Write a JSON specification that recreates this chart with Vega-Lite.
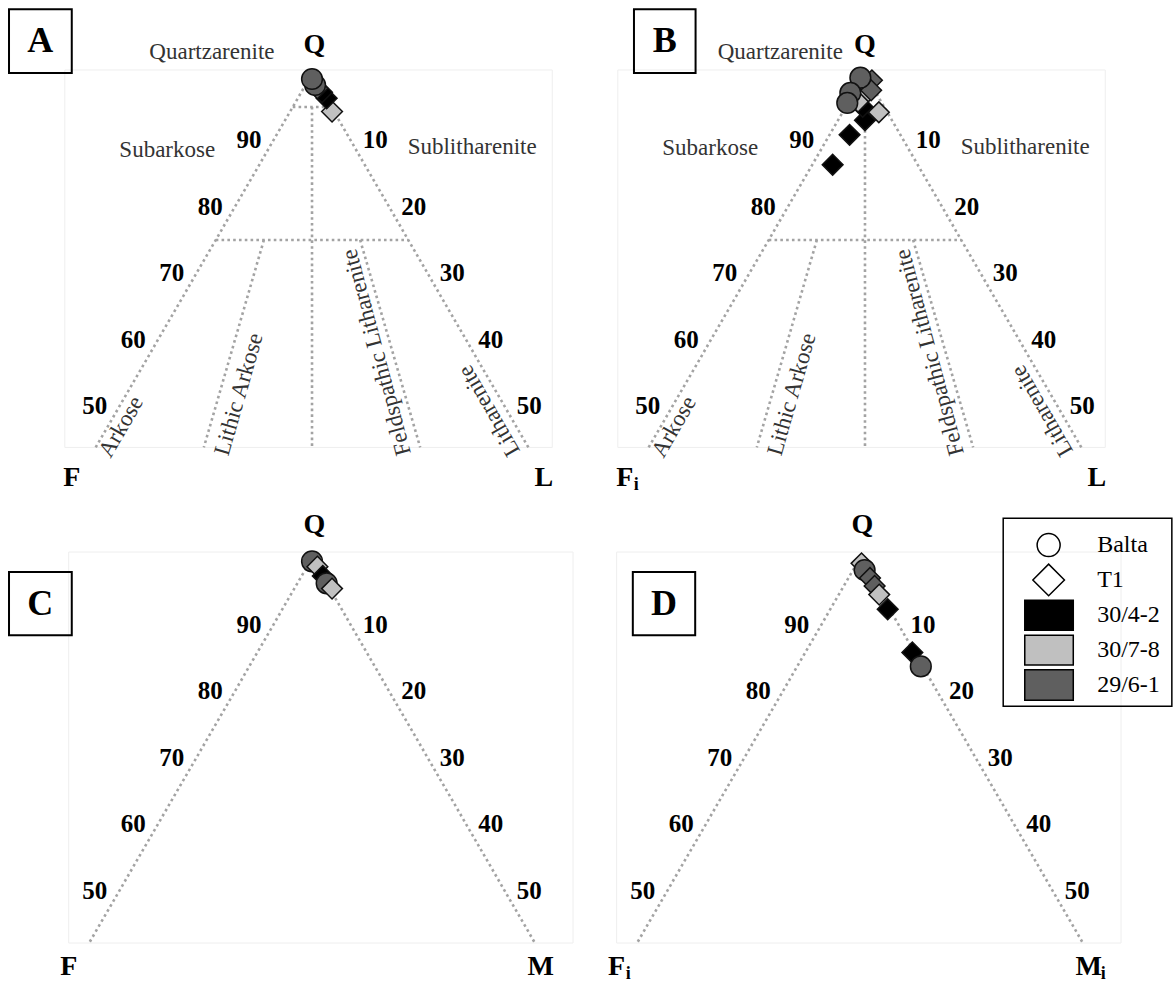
{
"$schema":"https://vega.github.io/schema/vega-lite/v6.json",
"padding":0,"spacing":0,"columns":2,"bounds":"flush","background":"white",
"config":{"view":{"stroke":null},"text":{"font":"Liberation Serif, Times New Roman, serif"}},
"resolve":{"scale":{"x":"independent","y":"independent"}},
"datasets":{
"grid_top":[{"x":0,"q":100,"x2":-28.1,"q2":43.8},{"x":0,"q":100,"x2":28.1,"q2":43.8},{"x":-2.5,"q":95,"x2":2.5,"q2":95},{"x":0,"q":95,"x2":0,"q2":43.8},{"x":-12.5,"q":75,"x2":12.5,"q2":75},{"x":-6.25,"q":75,"x2":-14.05,"q2":43.8},{"x":6.25,"q":75,"x2":14.05,"q2":43.8}],
"grid_bottom":[{"x":0,"q":100,"x2":-28.95,"q2":42.1},{"x":0,"q":100,"x2":28.95,"q2":42.1}],
"frame_top":[{"x":-32.1,"q":100.56,"x2":31.2,"q2":43.8}],
"frame_bottom":[{"x":-31.6,"q":100.9,"x2":33.9,"q2":42.1}],
"ticks":[{"label":"90","x":-8.2,"q":90},{"label":"80","x":-13.2,"q":80},{"label":"70","x":-18.2,"q":70},{"label":"60","x":-23.2,"q":60},{"label":"50","x":-28.2,"q":50},{"label":"10","x":8.2,"q":90},{"label":"20","x":13.2,"q":80},{"label":"30","x":18.2,"q":70},{"label":"40","x":23.2,"q":60},{"label":"50","x":28.2,"q":50}],
"regions":[{"panel":"A","label":"Quartzarenite","x":-13.0,"q":103.3},{"panel":"A","label":"Subarkose","x":-18.8,"q":88.5},{"panel":"A","label":"Sublitharenite","x":20.8,"q":89},{"panel":"B","label":"Quartzarenite","x":-11.0,"q":103.3},{"panel":"B","label":"Subarkose","x":-20.1,"q":88.8},{"panel":"B","label":"Sublitharenite","x":20.8,"q":89}],
"rotated":[{"label":"Arkose","x":-24.8,"q":46.9},{"label":"Lithic Arkose","x":-9.5,"q":51.8},{"label":"Feldspathic Litharenite","x":8.4,"q":58.1},{"label":"Litharenite","x":23.0,"q":49.3}],
"corners":[{"panel":"A","label":"Q","x":0.3,"q":104.3},{"panel":"A","label":"F","x":-31.2,"q":39.2},{"panel":"A","label":"L","x":30.1,"q":39.2},{"panel":"B","label":"Q","x":0.0,"q":104.3},{"panel":"B","label":"F","x":-31.2,"q":39.2},{"panel":"B","label":"L","x":30.1,"q":39.2},{"panel":"C","label":"Q","x":0.3,"q":105},{"panel":"C","label":"F","x":-31.6,"q":38.5},{"panel":"C","label":"M","x":29.7,"q":38.5},{"panel":"D","label":"Q","x":0.3,"q":105},{"panel":"D","label":"F","x":-31.6,"q":38.5},{"panel":"D","label":"M","x":29.7,"q":38.5}],
"subs":[{"panel":"B","label":"i","x":-29.7,"q":38.1},{"panel":"D","label":"i","x":-30.1,"q":37.4},{"panel":"D","label":"i","x":31.6,"q":37.4}],
"boxes":[{"panel":"A","x":-39.35,"q":109.7,"x2":-31.2,"q2":100.1},{"panel":"B","x":-30.0,"q":109.7,"x2":-22.0,"q2":100.1},{"panel":"C","x":-39.35,"q":97.9,"x2":-31.2,"q2":88.4},{"panel":"D","x":-29.5,"q":97.9,"x2":-21.4,"q2":88.4}],
"letters":[{"panel":"A","label":"A","x":-35.3,"q":104.9},{"panel":"B","label":"B","x":-26.0,"q":104.9},{"panel":"C","label":"C","x":-35.3,"q":93.15},{"panel":"D","label":"D","x":-25.45,"q":93.15}],
"points":[
{"panel":"A","site":"T1","sample":"30/7-8","q":94.3,"x":2.6},
{"panel":"A","site":"T1","sample":"30/4-2","q":96.3,"x":1.9},
{"panel":"A","site":"T1","sample":"30/4-2","q":97.2,"x":1.3},
{"panel":"A","site":"T1","sample":"29/6-1","q":97.8,"x":0.7},
{"panel":"A","site":"Balta","sample":"29/6-1","q":98.3,"x":0.4},
{"panel":"A","site":"Balta","sample":"29/6-1","q":99.2,"x":0.0},
{"panel":"B","site":"T1","sample":"30/4-2","q":86.3,"x":-4.2},
{"panel":"B","site":"T1","sample":"30/4-2","q":90.8,"x":-2.0},
{"panel":"B","site":"T1","sample":"30/4-2","q":93.0,"x":0.0},
{"panel":"B","site":"T1","sample":"30/4-2","q":95.0,"x":-0.3},
{"panel":"B","site":"T1","sample":"30/7-8","q":94.2,"x":1.8},
{"panel":"B","site":"T1","sample":"30/7-8","q":96.5,"x":-0.3},
{"panel":"B","site":"T1","sample":"29/6-1","q":99.0,"x":0.9},
{"panel":"B","site":"T1","sample":"29/6-1","q":97.5,"x":0.8},
{"panel":"B","site":"T1","sample":"30/7-8","q":95.8,"x":-0.9},
{"panel":"B","site":"Balta","sample":"29/6-1","q":99.4,"x":-0.6},
{"panel":"B","site":"Balta","sample":"29/6-1","q":97.1,"x":-1.9},
{"panel":"B","site":"Balta","sample":"29/6-1","q":95.6,"x":-2.3},
{"panel":"C","site":"Balta","sample":"29/6-1","q":99.5,"x":0.0},
{"panel":"C","site":"T1","sample":"30/7-8","q":98.7,"x":0.7},
{"panel":"C","site":"T1","sample":"30/4-2","q":97.3,"x":1.4},
{"panel":"C","site":"Balta","sample":"29/6-1","q":96.2,"x":1.9},
{"panel":"C","site":"T1","sample":"30/7-8","q":95.4,"x":2.6},
{"panel":"D","site":"T1","sample":"30/7-8","q":99.2,"x":0.2},
{"panel":"D","site":"Balta","sample":"29/6-1","q":98.2,"x":0.6},
{"panel":"D","site":"T1","sample":"29/6-1","q":97.0,"x":1.3},
{"panel":"D","site":"T1","sample":"29/6-1","q":95.8,"x":1.9},
{"panel":"D","site":"T1","sample":"30/7-8","q":94.5,"x":2.5},
{"panel":"D","site":"T1","sample":"30/4-2","q":92.3,"x":3.6},
{"panel":"D","site":"T1","sample":"30/4-2","q":85.8,"x":6.8},
{"panel":"D","site":"Balta","sample":"29/6-1","q":83.7,"x":7.9}],
"legend_box":[{"x":18.6,"q":106.0,"x2":40.5,"q2":77.7}],
"legend_sym":[{"site":"Balta","x":24.5,"q":101.95},{"site":"T1","x":24.5,"q":96.7}],
"legend_rect":[{"sample":"30/4-2","x":21.4,"x2":27.7,"q":93.66,"q2":89.15},{"sample":"30/7-8","x":21.4,"x2":27.7,"q":88.4,"q2":83.9},{"sample":"29/6-1","x":21.4,"x2":27.7,"q":83.2,"q2":78.6}],
"legend_text":[{"label":"Balta","x":30.8,"q":101.95},{"label":"T1","x":30.8,"q":96.7},{"label":"30/4-2","x":30.8,"q":91.4},{"label":"30/7-8","x":30.8,"q":86.2},{"label":"29/6-1","x":30.8,"q":80.9}]
},
"concat":[
{"width":587,"height":490,
"encoding":{"x":{"field":"x","type":"quantitative","axis":null,"scale":{"domain":[-40.52,35.71],"nice":false,"zero":false}},"y":{"field":"q","type":"quantitative","axis":null,"scale":{"domain":[37.40,111.08],"nice":false,"zero":false}}},
"layer":[
{"data":{"name":"frame_top"},"mark":{"type":"rect","fillOpacity":0,"stroke":"#eeeeee","strokeWidth":1},"encoding":{"x2":{"field":"x2"},"y2":{"field":"q2"}}},
{"data":{"name":"grid_top"},"mark":{"type":"rule","stroke":"#a3a3a3","strokeWidth":2.6,"strokeDash":[2.6,3.2]},"encoding":{"x2":{"field":"x2"},"y2":{"field":"q2"}}},
{"data":{"name":"ticks"},"mark":{"type":"text","fontWeight":"bold","fontSize":25,"fill":"#000"},"encoding":{"text":{"field":"label"}}},
{"data":{"name":"regions"},"transform":[{"filter":"datum.panel === 'A'"}],"mark":{"type":"text","fontSize":23,"fill":"#333"},"encoding":{"text":{"field":"label"}}},
{"data":{"name":"rotated"},"transform":[{"filter":"datum.label === 'Arkose'"}],"mark":{"type":"text","fontSize":23,"fill":"#333","angle":300},"encoding":{"text":{"field":"label"}}},
{"data":{"name":"rotated"},"transform":[{"filter":"datum.label === 'Lithic Arkose'"}],"mark":{"type":"text","fontSize":23,"fill":"#333","angle":286},"encoding":{"text":{"field":"label"}}},
{"data":{"name":"rotated"},"transform":[{"filter":"datum.label === 'Feldspathic Litharenite'"}],"mark":{"type":"text","fontSize":23,"fill":"#333","angle":255},"encoding":{"text":{"field":"label"}}},
{"data":{"name":"rotated"},"transform":[{"filter":"datum.label === 'Litharenite'"}],"mark":{"type":"text","fontSize":23,"fill":"#333","angle":240},"encoding":{"text":{"field":"label"}}},
{"data":{"name":"corners"},"transform":[{"filter":"datum.panel === 'A'"}],"mark":{"type":"text","fontWeight":"bold","fontSize":28,"fill":"#000"},"encoding":{"text":{"field":"label"}}},
{"data":{"name":"boxes"},"transform":[{"filter":"datum.panel === 'A'"}],"mark":{"type":"rect","fillOpacity":0,"stroke":"#000","strokeWidth":2},"encoding":{"x2":{"field":"x2"},"y2":{"field":"q2"}}},
{"data":{"name":"letters"},"transform":[{"filter":"datum.panel === 'A'"}],"mark":{"type":"text","fontWeight":"bold","fontSize":36,"fill":"#000"},"encoding":{"text":{"field":"label"}}},
{"data":{"name":"points"},"transform":[{"filter":"datum.panel === 'A'"}],"mark":{"type":"point","filled":true,"size":430,"stroke":"#111","strokeWidth":1.5,"opacity":1},"encoding":{"shape":{"field":"site","type":"nominal","scale":{"domain":["Balta","T1"],"range":["circle","diamond"]},"legend":null},"fill":{"field":"sample","type":"nominal","scale":{"domain":["30/4-2","30/7-8","29/6-1"],"range":["#000000","#c0c0c0","#5f5f5f"]},"legend":null}}}
]},
{"width":587,"height":490,
"encoding":{"x":{"field":"x","type":"quantitative","axis":null,"scale":{"domain":[-36.10,40.13],"nice":false,"zero":false}},"y":{"field":"q","type":"quantitative","axis":null,"scale":{"domain":[37.40,111.08],"nice":false,"zero":false}}},
"layer":[
{"data":{"name":"frame_top"},"mark":{"type":"rect","fillOpacity":0,"stroke":"#eeeeee","strokeWidth":1},"encoding":{"x2":{"field":"x2"},"y2":{"field":"q2"}}},
{"data":{"name":"grid_top"},"mark":{"type":"rule","stroke":"#a3a3a3","strokeWidth":2.6,"strokeDash":[2.6,3.2]},"encoding":{"x2":{"field":"x2"},"y2":{"field":"q2"}}},
{"data":{"name":"ticks"},"mark":{"type":"text","fontWeight":"bold","fontSize":25,"fill":"#000"},"encoding":{"text":{"field":"label"}}},
{"data":{"name":"regions"},"transform":[{"filter":"datum.panel === 'B'"}],"mark":{"type":"text","fontSize":23,"fill":"#333"},"encoding":{"text":{"field":"label"}}},
{"data":{"name":"rotated"},"transform":[{"filter":"datum.label === 'Arkose'"}],"mark":{"type":"text","fontSize":23,"fill":"#333","angle":300},"encoding":{"text":{"field":"label"}}},
{"data":{"name":"rotated"},"transform":[{"filter":"datum.label === 'Lithic Arkose'"}],"mark":{"type":"text","fontSize":23,"fill":"#333","angle":286},"encoding":{"text":{"field":"label"}}},
{"data":{"name":"rotated"},"transform":[{"filter":"datum.label === 'Feldspathic Litharenite'"}],"mark":{"type":"text","fontSize":23,"fill":"#333","angle":255},"encoding":{"text":{"field":"label"}}},
{"data":{"name":"rotated"},"transform":[{"filter":"datum.label === 'Litharenite'"}],"mark":{"type":"text","fontSize":23,"fill":"#333","angle":240},"encoding":{"text":{"field":"label"}}},
{"data":{"name":"corners"},"transform":[{"filter":"datum.panel === 'B'"}],"mark":{"type":"text","fontWeight":"bold","fontSize":28,"fill":"#000"},"encoding":{"text":{"field":"label"}}},
{"data":{"name":"subs"},"transform":[{"filter":"datum.panel === 'B'"}],"mark":{"type":"text","fontWeight":"bold","fontSize":18,"fill":"#000"},"encoding":{"text":{"field":"label"}}},
{"data":{"name":"boxes"},"transform":[{"filter":"datum.panel === 'B'"}],"mark":{"type":"rect","fillOpacity":0,"stroke":"#000","strokeWidth":2},"encoding":{"x2":{"field":"x2"},"y2":{"field":"q2"}}},
{"data":{"name":"letters"},"transform":[{"filter":"datum.panel === 'B'"}],"mark":{"type":"text","fontWeight":"bold","fontSize":36,"fill":"#000"},"encoding":{"text":{"field":"label"}}},
{"data":{"name":"points"},"transform":[{"filter":"datum.panel === 'B'"}],"mark":{"type":"point","filled":true,"size":430,"stroke":"#111","strokeWidth":1.5,"opacity":1},"encoding":{"shape":{"field":"site","type":"nominal","scale":{"domain":["Balta","T1"],"range":["circle","diamond"]},"legend":null},"fill":{"field":"sample","type":"nominal","scale":{"domain":["30/4-2","30/7-8","29/6-1"],"range":["#000000","#c0c0c0","#5f5f5f"]},"legend":null}}}
]},
{"width":587,"height":493,
"encoding":{"x":{"field":"x","type":"quantitative","axis":null,"scale":{"domain":[-40.52,35.71],"nice":false,"zero":false}},"y":{"field":"q","type":"quantitative","axis":null,"scale":{"domain":[36.09,110.23],"nice":false,"zero":false}}},
"layer":[
{"data":{"name":"frame_bottom"},"mark":{"type":"rect","fillOpacity":0,"stroke":"#eeeeee","strokeWidth":1},"encoding":{"x2":{"field":"x2"},"y2":{"field":"q2"}}},
{"data":{"name":"grid_bottom"},"mark":{"type":"rule","stroke":"#a3a3a3","strokeWidth":2.6,"strokeDash":[2.6,3.2]},"encoding":{"x2":{"field":"x2"},"y2":{"field":"q2"}}},
{"data":{"name":"ticks"},"mark":{"type":"text","fontWeight":"bold","fontSize":25,"fill":"#000"},"encoding":{"text":{"field":"label"}}},
{"data":{"name":"corners"},"transform":[{"filter":"datum.panel === 'C'"}],"mark":{"type":"text","fontWeight":"bold","fontSize":28,"fill":"#000"},"encoding":{"text":{"field":"label"}}},
{"data":{"name":"boxes"},"transform":[{"filter":"datum.panel === 'C'"}],"mark":{"type":"rect","fillOpacity":0,"stroke":"#000","strokeWidth":2},"encoding":{"x2":{"field":"x2"},"y2":{"field":"q2"}}},
{"data":{"name":"letters"},"transform":[{"filter":"datum.panel === 'C'"}],"mark":{"type":"text","fontWeight":"bold","fontSize":36,"fill":"#000"},"encoding":{"text":{"field":"label"}}},
{"data":{"name":"points"},"transform":[{"filter":"datum.panel === 'C'"}],"mark":{"type":"point","filled":true,"size":430,"stroke":"#111","strokeWidth":1.5,"opacity":1},"encoding":{"shape":{"field":"site","type":"nominal","scale":{"domain":["Balta","T1"],"range":["circle","diamond"]},"legend":null},"fill":{"field":"sample","type":"nominal","scale":{"domain":["30/4-2","30/7-8","29/6-1"],"range":["#000000","#c0c0c0","#5f5f5f"]},"legend":null}}}
]},
{"width":587,"height":493,
"encoding":{"x":{"field":"x","type":"quantitative","axis":null,"scale":{"domain":[-35.45,40.78],"nice":false,"zero":false}},"y":{"field":"q","type":"quantitative","axis":null,"scale":{"domain":[36.09,110.23],"nice":false,"zero":false}}},
"layer":[
{"data":{"name":"frame_bottom"},"mark":{"type":"rect","fillOpacity":0,"stroke":"#eeeeee","strokeWidth":1},"encoding":{"x2":{"field":"x2"},"y2":{"field":"q2"}}},
{"data":{"name":"grid_bottom"},"mark":{"type":"rule","stroke":"#a3a3a3","strokeWidth":2.6,"strokeDash":[2.6,3.2]},"encoding":{"x2":{"field":"x2"},"y2":{"field":"q2"}}},
{"data":{"name":"ticks"},"mark":{"type":"text","fontWeight":"bold","fontSize":25,"fill":"#000"},"encoding":{"text":{"field":"label"}}},
{"data":{"name":"corners"},"transform":[{"filter":"datum.panel === 'D'"}],"mark":{"type":"text","fontWeight":"bold","fontSize":28,"fill":"#000"},"encoding":{"text":{"field":"label"}}},
{"data":{"name":"subs"},"transform":[{"filter":"datum.panel === 'D'"}],"mark":{"type":"text","fontWeight":"bold","fontSize":18,"fill":"#000"},"encoding":{"text":{"field":"label"}}},
{"data":{"name":"boxes"},"transform":[{"filter":"datum.panel === 'D'"}],"mark":{"type":"rect","fillOpacity":0,"stroke":"#000","strokeWidth":2},"encoding":{"x2":{"field":"x2"},"y2":{"field":"q2"}}},
{"data":{"name":"letters"},"transform":[{"filter":"datum.panel === 'D'"}],"mark":{"type":"text","fontWeight":"bold","fontSize":36,"fill":"#000"},"encoding":{"text":{"field":"label"}}},
{"data":{"name":"points"},"transform":[{"filter":"datum.panel === 'D'"}],"mark":{"type":"point","filled":true,"size":430,"stroke":"#111","strokeWidth":1.5,"opacity":1},"encoding":{"shape":{"field":"site","type":"nominal","scale":{"domain":["Balta","T1"],"range":["circle","diamond"]},"legend":null},"fill":{"field":"sample","type":"nominal","scale":{"domain":["30/4-2","30/7-8","29/6-1"],"range":["#000000","#c0c0c0","#5f5f5f"]},"legend":null}}},
{"data":{"name":"legend_box"},"mark":{"type":"rect","fillOpacity":0,"stroke":"#000","strokeWidth":1.5},"encoding":{"x2":{"field":"x2"},"y2":{"field":"q2"}}},
{"data":{"name":"legend_sym"},"transform":[{"filter":"datum.site === 'Balta'"}],"mark":{"type":"point","filled":true,"fill":"#ffffff","size":530,"stroke":"#000","strokeWidth":1.5,"opacity":1},"encoding":{"shape":{"field":"site","type":"nominal","scale":{"domain":["Balta","T1"],"range":["circle","diamond"]},"legend":null}}},
{"data":{"name":"legend_sym"},"transform":[{"filter":"datum.site === 'T1'"}],"mark":{"type":"point","filled":true,"fill":"#ffffff","size":1000,"stroke":"#000","strokeWidth":1.5,"opacity":1},"encoding":{"shape":{"field":"site","type":"nominal","scale":{"domain":["Balta","T1"],"range":["circle","diamond"]},"legend":null}}},
{"data":{"name":"legend_rect"},"mark":{"type":"rect","stroke":"#000","strokeWidth":1.5,"opacity":1},"encoding":{"x2":{"field":"x2"},"y2":{"field":"q2"},"fill":{"field":"sample","type":"nominal","scale":{"domain":["30/4-2","30/7-8","29/6-1"],"range":["#000000","#c0c0c0","#5f5f5f"]},"legend":null}}},
{"data":{"name":"legend_text"},"mark":{"type":"text","fontSize":24,"fill":"#000","align":"left"},"encoding":{"text":{"field":"label"}}}
]}
]
}
